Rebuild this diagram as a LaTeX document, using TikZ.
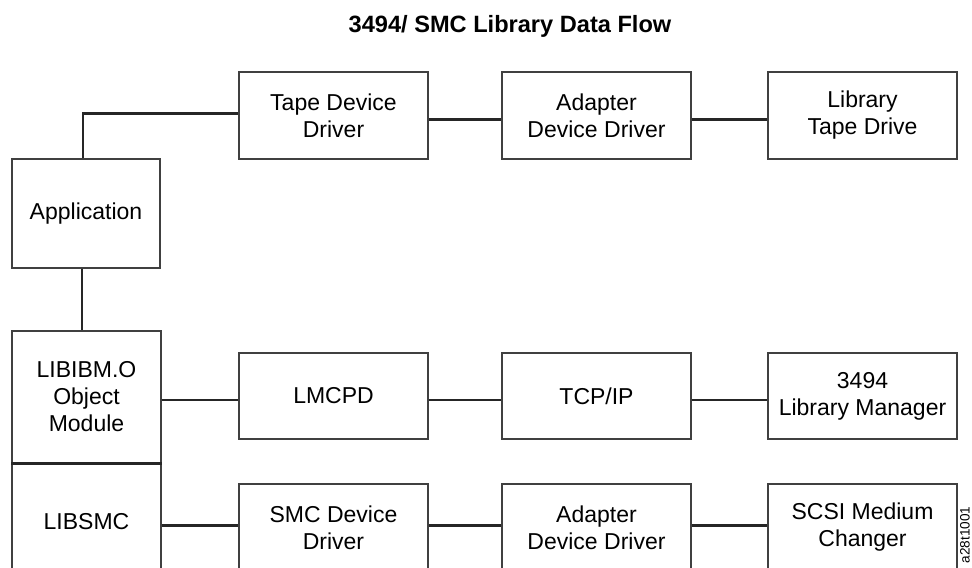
\documentclass[tikz,border=0pt]{standalone}
\usepackage{fontspec}
\setmainfont{Liberation Sans}

\tikzset{
  blk/.style={draw=black!75, line width=0.6pt, minimum width=94.5pt, minimum height=43.5pt,
    align=center, inner sep=0pt, font=\fontsize{11.5}{13.5}\selectfont},
  libblk/.style={blk, minimum width=74.5pt},
  link/.style={line width=1.2pt, draw=black!85},
}

\begin{document}
\begin{tikzpicture}[x=0.5pt,y=-0.5pt]
	%%%%% START %%%%%
	\useasboundingbox (0,0) rectangle (972,567);
	\clip (0,0) rectangle (972,567);
	
	\node[font=\bfseries\fontsize{11.8}{13}\selectfont] (title) at (510,26) {3494/ SMC Library Data Flow};
	
	% tape path
	\node[blk] (tapedd) at (333.5,115.5) {Tape Device\\Driver};
	\node[blk] (adapt1) at (596.5,115.5) {Adapter\\Device Driver};
	\node[blk] (tapedrv) at (862.5,115.5) {Library\\Tape Drive};
	
	% left column
	\node[blk, minimum width=74pt, minimum height=54.5pt] (app) at (86,213.5) {Application};
	\node[libblk, minimum height=66pt] (libibm) at (86.5,397) {LIBIBM.O\\Object\\Module};
	\node[libblk, minimum height=59pt] (libsmc) at (86.5,522) {LIBSMC};
	
	% library manager path
	\node[blk, minimum height=43pt] (lmcpd) at (333.5,396) {LMCPD};
	\node[blk, minimum height=43pt] (tcpip) at (596.5,396) {TCP/IP};
	\node[blk, minimum height=43pt] (libmgr) at (862.5,396) {3494\\Library Manager};
	
	% medium changer path
	\node[blk] (smcdd) at (333.5,527.5) {SMC Device\\Driver};
	\node[blk] (adapt2) at (596.5,527.5) {Adapter\\Device Driver};
	\node[blk] (scsimc) at (862.5,527.5) {SCSI Medium\\Changer};
	
	\node[rotate=90, font=\fontsize{6.8}{7}\selectfont] (figid) at (965,535) {a28t1001};
	
	% connectors
	\draw[link] ([xshift=-1.5pt]app.north) |- ([yshift=1pt]tapedd.west);
	\draw[link] ([yshift=-2pt]tapedd.east) -- ([yshift=-2pt]adapt1.west);
	\draw[link] ([yshift=-2pt]adapt1.east) -- ([yshift=-2pt]tapedrv.west);
	\draw[link] ([xshift=-2pt]app.south) -- ([xshift=-2pt]app.south |- libibm.north);
	\draw[link] (libibm.south west) -- (libibm.south east);
	
	\draw[link] ([yshift=-2pt]lmcpd.west -| libibm.east) -- ([yshift=-2pt]lmcpd.west);
	\draw[link] ([yshift=-2pt]lmcpd.east) -- ([yshift=-2pt]tcpip.west);
	\draw[link] ([yshift=-2pt]tcpip.east) -- ([yshift=-2pt]libmgr.west);
	
	\draw[link] ([yshift=1pt]smcdd.west -| libsmc.east) -- ([yshift=1pt]smcdd.west);
	\draw[link] ([yshift=1pt]smcdd.east) -- ([yshift=1pt]adapt2.west);
	\draw[link] ([yshift=1pt]adapt2.east) -- ([yshift=1pt]scsimc.west);
	
	%%%%% END %%%%%
\end{tikzpicture}
\end{document}
